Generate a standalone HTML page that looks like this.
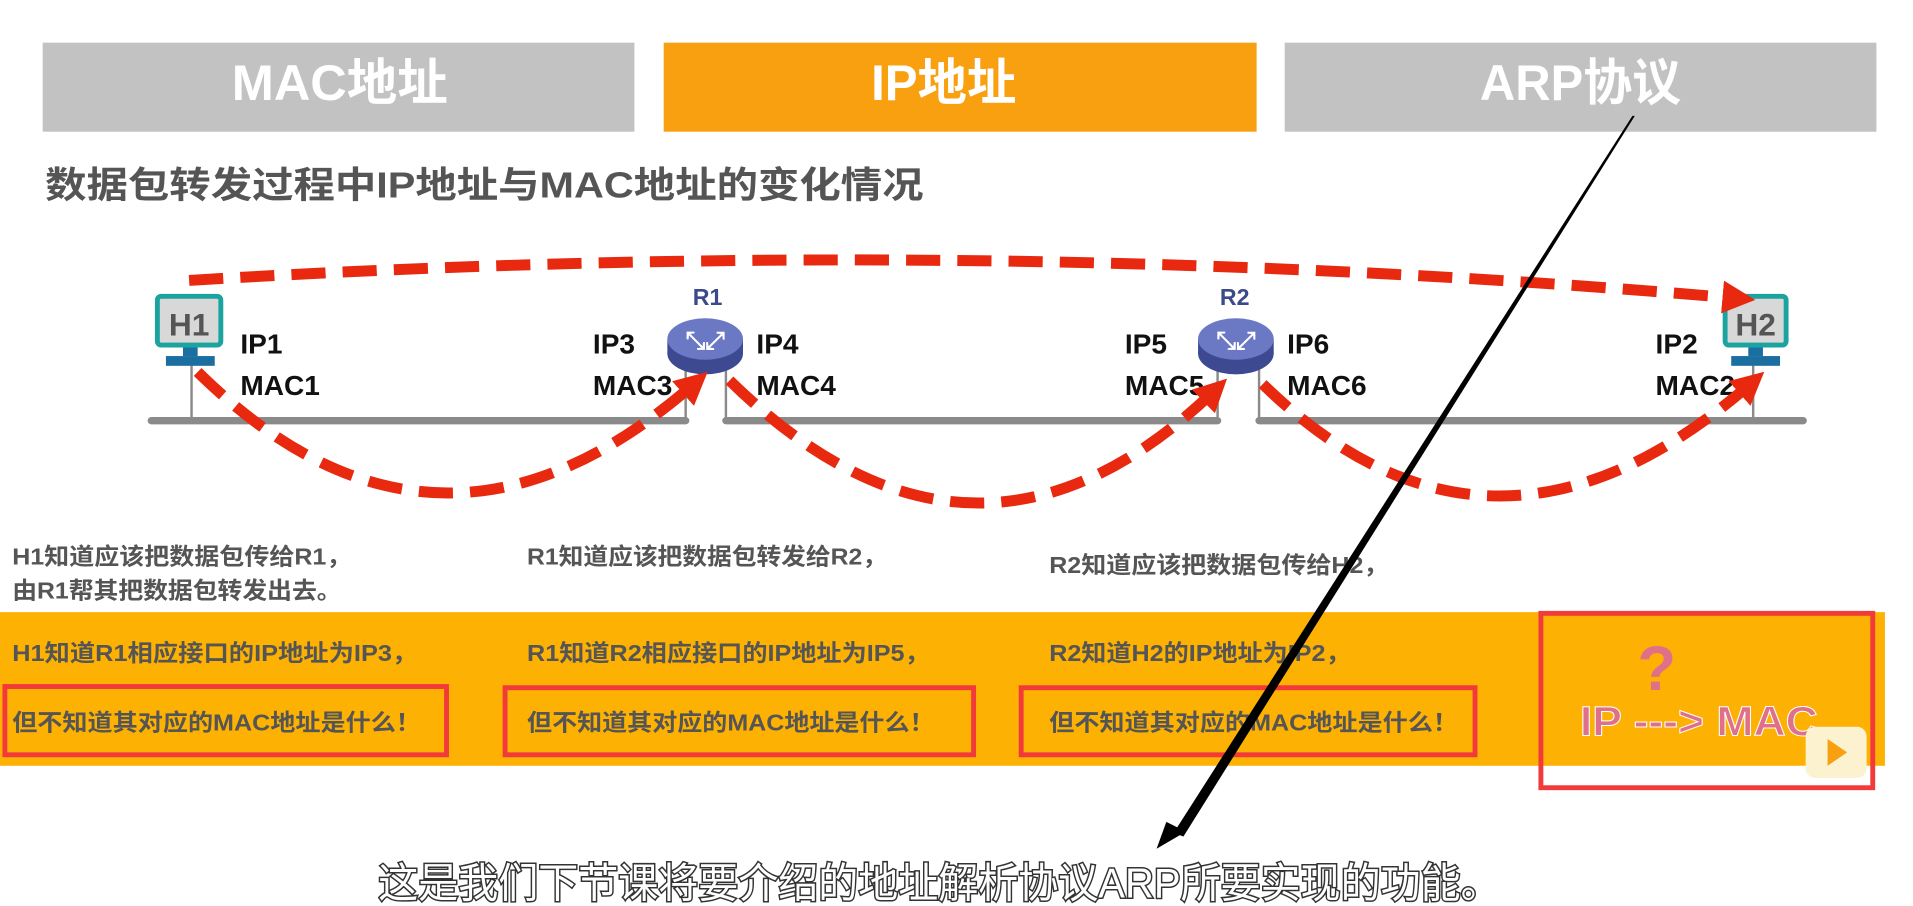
<!DOCTYPE html>
<html><head><meta charset="utf-8"><style>
html,body{margin:0;padding:0;background:#fff;width:1913px;height:906px;overflow:hidden}
svg{display:block}
text{font-family:"Liberation Sans","Noto Sans CJK SC",sans-serif;font-weight:bold}
</style></head><body>
<svg width="1913" height="906" viewBox="0 0 1568 743" preserveAspectRatio="none">
<defs>
<marker id="ar" markerWidth="3" markerHeight="3" refX="1.8" refY="1.5" orient="auto" markerUnits="strokeWidth"><path d="M0,0 L3,1.5 L0,3 z" fill="#e8290f"/></marker>
</defs>
<rect x="35" y="35" width="485" height="73" fill="#c2c2c2"/>
<rect x="544" y="35" width="486" height="73" fill="#f9a011"/>
<rect x="1053" y="35" width="485" height="73" fill="#c2c2c2"/>
<text x="190" y="82" font-size="41" fill="#fff" textLength="177" lengthAdjust="spacingAndGlyphs">MAC地址</text>
<text x="714" y="82" font-size="41" fill="#fff" textLength="119" lengthAdjust="spacingAndGlyphs">IP地址</text>
<text x="1213" y="82" font-size="41" fill="#fff" textLength="165" lengthAdjust="spacingAndGlyphs">ARP协议</text>
<text x="37" y="162" font-size="30" fill="#555" textLength="720" lengthAdjust="spacingAndGlyphs">数据包转发过程中IP地址与MAC地址的变化情况</text>

<g stroke="#8a8a8a" stroke-width="6" stroke-linecap="round">
<line x1="124" y1="345" x2="562" y2="345"/><line x1="595" y1="345" x2="998" y2="345"/><line x1="1032" y1="345" x2="1478" y2="345"/>
</g>
<g stroke="#8a8a8a" stroke-width="2">
<line x1="157" y1="298" x2="157" y2="345"/><line x1="562" y1="300" x2="562" y2="345"/><line x1="595" y1="300" x2="595" y2="345"/>
<line x1="998" y1="300" x2="998" y2="345"/><line x1="1032" y1="300" x2="1032" y2="345"/><line x1="1437" y1="298" x2="1437" y2="345"/>
</g>
<rect x="129" y="243" width="52" height="40" rx="3" fill="#d8d8d8" stroke="#1aa39f" stroke-width="4"/>
<text x="155" y="275" font-size="26" fill="#555" text-anchor="middle">H1</text>
<rect x="150" y="285" width="12" height="7" fill="#1a6ea0"/><rect x="136" y="292" width="40" height="8" fill="#1a6ea0"/>
<rect x="1414" y="243" width="50" height="40" rx="3" fill="#d8d8d8" stroke="#1aa39f" stroke-width="4"/>
<text x="1439" y="275" font-size="26" fill="#555" text-anchor="middle">H2</text>
<rect x="1433" y="285" width="12" height="7" fill="#1a6ea0"/><rect x="1419" y="292" width="40" height="8" fill="#1a6ea0"/>
<g>
<ellipse cx="578" cy="290" rx="31" ry="17" fill="#3d4a92"/><rect x="547" y="278" width="62" height="12" fill="#3d4a92"/>
<ellipse cx="578" cy="278" rx="31" ry="17" fill="#6b78c4"/>
<text x="578" y="286" font-size="20" fill="#fff" text-anchor="middle">⤡⤢</text>
<text x="580" y="250" font-size="19" fill="#3d4a8a" text-anchor="middle">R1</text>
<ellipse cx="1013" cy="290" rx="31" ry="17" fill="#3d4a92"/><rect x="982" y="278" width="62" height="12" fill="#3d4a92"/>
<ellipse cx="1013" cy="278" rx="31" ry="17" fill="#6b78c4"/>
<text x="1013" y="286" font-size="20" fill="#fff" text-anchor="middle">⤡⤢</text>
<text x="1012" y="250" font-size="19" fill="#3d4a8a" text-anchor="middle">R2</text>
</g>
<g font-size="23" fill="#111">
<text x="197" y="290">IP1</text><text x="197" y="324">MAC1</text>
<text x="486" y="290">IP3</text><text x="486" y="324">MAC3</text>
<text x="620" y="290">IP4</text><text x="620" y="324">MAC4</text>
<text x="922" y="290">IP5</text><text x="922" y="324">MAC5</text>
<text x="1055" y="290">IP6</text><text x="1055" y="324">MAC6</text>
<text x="1357" y="290">IP2</text><text x="1357" y="324">MAC2</text>
</g>
<g fill="none" stroke="#e8290f" stroke-width="9" stroke-dasharray="28,14">
<path d="M155,230 Q800,190 1428,245" marker-end="url(#ar)"/>
<path d="M162,305 Q360,500 572,312" marker-end="url(#ar)"/>
<path d="M598,312 Q800,510 998,318" marker-end="url(#ar)"/>
<path d="M1035,315 Q1225,500 1438,312" marker-end="url(#ar)"/>
</g>
<g font-size="19" fill="#555">
<text x="10" y="463" textLength="278" lengthAdjust="spacingAndGlyphs">H1知道应该把数据包传给R1，</text>
<text x="10" y="491" textLength="270" lengthAdjust="spacingAndGlyphs">由R1帮其把数据包转发出去。</text>
<text x="432" y="463" textLength="295" lengthAdjust="spacingAndGlyphs">R1知道应该把数据包转发给R2，</text>
<text x="860" y="470" textLength="278" lengthAdjust="spacingAndGlyphs">R2知道应该把数据包传给H2，</text>
</g>
<rect x="0" y="502" width="1545" height="126" fill="#fdb102"/>
<g font-size="19" fill="#555">
<text x="10" y="542" textLength="332" lengthAdjust="spacingAndGlyphs">H1知道R1相应接口的IP地址为IP3，</text>
<text x="432" y="542" textLength="330" lengthAdjust="spacingAndGlyphs">R1知道R2相应接口的IP地址为IP5，</text>
<text x="860" y="542" textLength="247" lengthAdjust="spacingAndGlyphs">R2知道H2的IP地址为IP2，</text>
<text x="10" y="599" textLength="335" lengthAdjust="spacingAndGlyphs">但不知道其对应的MAC地址是什么！</text>
<text x="432" y="599" textLength="334" lengthAdjust="spacingAndGlyphs">但不知道其对应的MAC地址是什么！</text>
<text x="860" y="599" textLength="335" lengthAdjust="spacingAndGlyphs">但不知道其对应的MAC地址是什么！</text>
</g>
<g fill="none" stroke="#f23a3a" stroke-width="4">
<rect x="4" y="563" width="362" height="56"/>
<rect x="414" y="564" width="384" height="55"/>
<rect x="837" y="564" width="372" height="55"/>
<rect x="1263" y="503" width="272" height="143"/>
</g>
<text x="1358" y="566" font-size="52" fill="#e0708a" text-anchor="middle">?</text>
<text x="1295" y="603" font-size="34" fill="#e0708a" stroke="#fff" stroke-width="0.8" textLength="195" lengthAdjust="spacingAndGlyphs">IP ---&gt; MAC</text>
<rect x="1480" y="596" width="50" height="42" rx="8" fill="#fdf2d0"/>
<path d="M1498,606 L1514,617 L1498,628 z" fill="#f9a011"/>
<path d="M1340,95 L1338,95 L962,683 L970,686 z" fill="#000"/>
<path d="M948,696 L956,674 L972,682 z" fill="#000"/>
<text x="310" y="736" font-size="34" fill="#fff" stroke="#333" stroke-width="2.5" paint-order="stroke" textLength="920" lengthAdjust="spacingAndGlyphs" style="font-weight:normal">这是我们下节课将要介绍的地址解析协议ARP所要实现的功能。</text>
</svg>
</body></html>
